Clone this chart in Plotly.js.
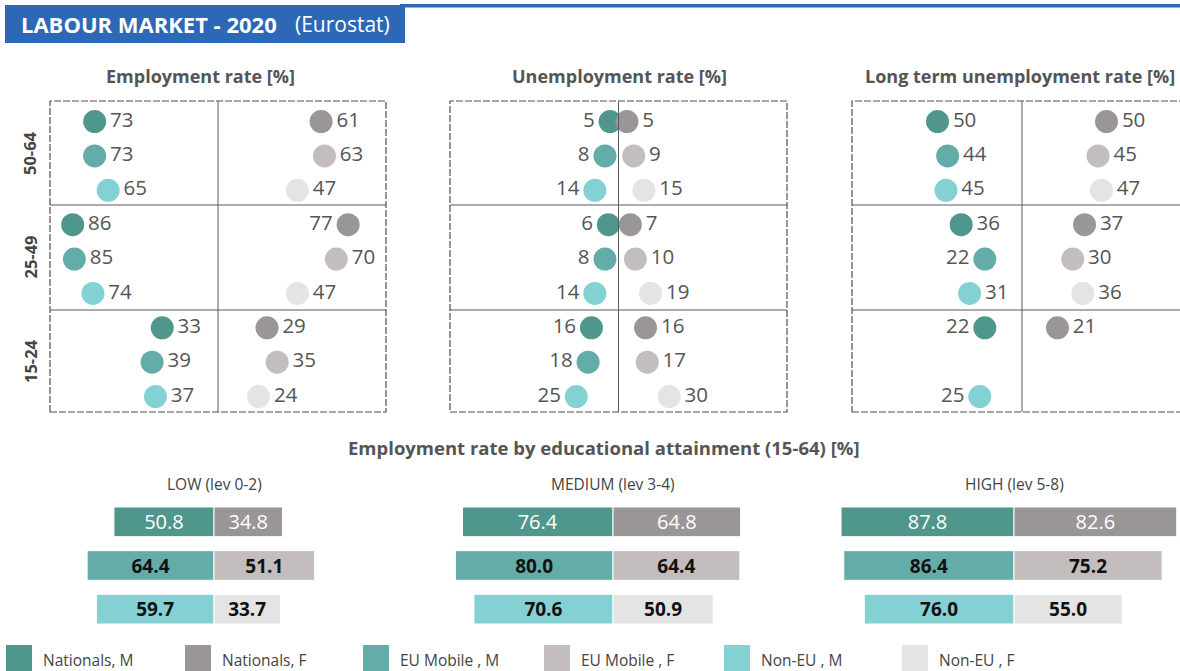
<!DOCTYPE html>
<html>
<head>
<meta charset="utf-8">
<script src="https://cdn.plot.ly/plotly-3.0.1.min.js"></script>
<style>html,body{margin:0;padding:0;background:#fff;}#chart{width:1180px;height:671px;}</style>
</head>
<body>
<div id="chart"></div>
<script>
// ---------------- DATA ----------------
const ageGroups = ['50-64', '25-49', '15-24'];
const groupLabels = ['Nationals, M', 'Nationals, F', 'EU Mobile , M', 'EU Mobile , F', 'Non-EU , M', 'Non-EU , F'];

// Employment rate [%]
const empNatM = [73, 86, 33];
const empEUM  = [73, 85, 39];
const empNonM = [65, 74, 37];
const empNatF = [61, 77, 29];
const empEUF  = [63, 70, 35];
const empNonF = [47, 47, 24];

// Unemployment rate [%]
const unNatM = [5, 6, 16];
const unEUM  = [8, 8, 18];
const unNonM = [14, 14, 25];
const unNatF = [5, 7, 16];
const unEUF  = [9, 10, 17];
const unNonF = [15, 19, 30];

// Long term unemployment rate [%]
const ltNatM = [50, 36, 22];
const ltEUM  = [44, 22, null];
const ltNonM = [45, 31, 25];
const ltNatF = [50, 37, 21];
const ltEUF  = [45, 30, null];
const ltNonF = [47, 36, null];

// Employment rate by educational attainment (15-64) [%]  rows: Nationals, EU Mobile, Non-EU
const eduLevels = ['LOW (lev 0-2)', 'MEDIUM (lev 3-4)', 'HIGH (lev 5-8)'];
const lowM = [50.8, 64.4, 59.7];
const lowF = [34.8, 51.1, 33.7];
const medM = [76.4, 80.0, 70.6];
const medF = [64.8, 64.4, 50.9];
const highM = [87.8, 86.4, 76.0];
const highF = [82.6, 75.2, 55.0];

// ---------------- STYLE ----------------
const W = 1180, H = 671;
const px = x => x / W;
const py = y => 1 - y / H;
const FONT = 'Open Sans, Noto Sans, sans-serif';

const colM = ['#4f978c', '#64aca7', '#84d1d3'];
const colF = ['#9a9697', '#c3bdbd', '#e4e4e4'];

const R = 'middle right', L = 'middle left';
const dotPanels = [
  {title: 'Employment rate [%]', tx: 200, x0: 50, x1: 386, c: 218,
   M: [empNatM, empEUM, empNonM], F: [empNatF, empEUF, empNonF],
   posM: [[R,R,R],[R,R,R],[R,R,R]], posF: [[R,L,R],[R,R,R],[R,R,R]]},
  {title: 'Unemployment rate [%]', tx: 619, x0: 450, x1: 787, c: 618.5,
   M: [unNatM, unEUM, unNonM], F: [unNatF, unEUF, unNonF],
   posM: [[L,L,L],[L,L,L],[L,L,L]], posF: [[R,R,R],[R,R,R],[R,R,R]]},
  {title: 'Long term unemployment rate [%]', tx: 1020, x0: 852, x1: 1180, c: 1022, clipR: 1192,
   M: [ltNatM, ltEUM, ltNonM], F: [ltNatF, ltEUF, ltNonF],
   posM: [[R,R,L],[R,L,L],[R,R,L]], posF: [[R,R,R],[R,R,R],[R,R,R]]}
];
const kDot = 1.69;
const dotTop = 101, dotBot = 412, div1 = 205, div2 = 310;

const barLevels = [
  {M: lowM, F: lowF, x0: 20, x1: 400, c: 214},
  {M: medM, F: medF, x0: 420, x1: 805, c: 613},
  {M: highM, F: highF, x0: 820, x1: 1180, c: 1014}
];
const kBar = 1.97;
const barTop = 500, barBot = 631;

// ---------------- BUILD ----------------
const traces = [];
const layout = {
  width: W, height: H,
  margin: {l: 0, r: 0, t: 0, b: 0},
  paper_bgcolor: '#ffffff', plot_bgcolor: 'rgba(0,0,0,0)',
  showlegend: false, barmode: 'overlay',
  font: {family: FONT, color: '#555'},
  shapes: [], annotations: []
};
const hiddenAxis = {showgrid: false, zeroline: false, showticklabels: false, showline: false, ticks: '', fixedrange: true};

dotPanels.forEach((p, i) => {
  const n = i + 1;
  const xa = 'xaxis' + (n === 1 ? '' : n), ya = 'yaxis' + (n === 1 ? '' : n);
  const xr = 'x' + (n === 1 ? '' : n), yr = 'y' + (n === 1 ? '' : n);
  layout[xa] = Object.assign({}, hiddenAxis, {domain: [px(p.x0), px(p.x1)],
    range: [-(p.c - p.x0) / kDot, (p.x1 - p.c) / kDot], anchor: yr});
  layout[ya] = Object.assign({}, hiddenAxis, {domain: [py(dotBot), py(dotTop)],
    range: [8.45, -0.6], anchor: xr});
  [0, 1, 2].forEach(g => {
    ['M', 'F'].forEach(sex => {
      const vals = p[sex][g];
      traces.push({
        type: 'scatter', mode: 'markers+text', xaxis: xr, yaxis: yr,
        x: vals.map(v => v == null ? null : (sex === 'M' ? -v : v)),
        y: ageGroups.map((a, ai) => ai * 3 + g),
        text: vals.map(v => v == null ? '' : String(v)),
        textposition: sex === 'M' ? p.posM[g] : p.posF[g],
        textfont: {family: FONT, size: 20.5, color: '#555'},
        marker: {size: 23, color: sex === 'M' ? colM[g] : colF[g], line: {width: 0}},
        cliponaxis: false, hoverinfo: 'skip'
      });
    });
  });
  // panel borders
  const xr1 = p.clipR || p.x1;
  layout.shapes.push({type: 'rect', xref: 'paper', yref: 'paper', x0: px(p.x0), x1: px(xr1),
    y0: py(dotBot), y1: py(dotTop), line: {color: '#505050', width: 1.2, dash: '7px,2px'}, fillcolor: 'rgba(0,0,0,0)'});
  [div1, div2].forEach(yy => layout.shapes.push({type: 'line', xref: 'paper', yref: 'paper',
    x0: px(p.x0), x1: px(xr1), y0: py(yy), y1: py(yy), line: {color: '#5a5a5a', width: 1}}));
  layout.shapes.push({type: 'line', xref: 'paper', yref: 'paper', x0: px(p.c), x1: px(p.c),
    y0: py(dotBot), y1: py(dotTop), line: {color: '#5a5a5a', width: 1}});
  layout.annotations.push({text: '<b>' + p.title + '</b>', xref: 'paper', yref: 'paper',
    x: px(p.tx), y: py(76), xanchor: 'center', yanchor: 'middle', showarrow: false,
    font: {family: FONT, size: 18, color: '#555'}});
});

// age labels
const blocks = [[dotTop, div1], [div1, div2], [div2, dotBot]];
ageGroups.forEach((a, ai) => {
  layout.annotations.push({text: '<b>' + a + '</b>', xref: 'paper', yref: 'paper',
    x: px(30), y: py((blocks[ai][0] + blocks[ai][1]) / 2), textangle: -90,
    xanchor: 'center', yanchor: 'middle', showarrow: false,
    font: {family: FONT, size: 16.5, color: '#444'}});
});

// bars
barLevels.forEach((b, i) => {
  const n = i + 4;
  const xr = 'x' + n, yr = 'y' + n;
  layout['xaxis' + n] = Object.assign({}, hiddenAxis, {domain: [px(b.x0), px(b.x1)],
    range: [-(b.c - b.x0) / kBar, (b.x1 - b.c) / kBar], anchor: yr});
  layout['yaxis' + n] = Object.assign({}, hiddenAxis, {domain: [py(barBot), py(barTop)],
    range: [2.5, -0.5], anchor: xr});
  [0, 1, 2].forEach(r => {
    ['M', 'F'].forEach(sex => {
      const v = b[sex][r];
      traces.push({
        type: 'bar', orientation: 'h', xaxis: xr, yaxis: yr,
        x: [sex === 'M' ? -v : v], y: [r], width: 0.68,
        marker: {color: sex === 'M' ? colM[r] : colF[r], line: {color: '#ffffff', width: 1}},
        text: [v.toFixed(1)], textposition: 'inside', insidetextanchor: 'middle', textangle: 0,
        constraintext: 'none',
        textfont: {family: FONT, size: r === 0 ? 20 : 19, color: r === 0 ? '#ffffff' : '#111111', weight: r === 0 ? 'normal' : 'bold'},
        hoverinfo: 'skip'
      });
    });
  });
  layout.annotations.push({text: eduLevels[i], xref: 'paper', yref: 'paper',
    x: px(b.c), y: py(484), xanchor: 'center', yanchor: 'middle', showarrow: false,
    font: {family: FONT, size: 15.5, color: '#444'}});
});

layout.annotations.push({text: '<b>Employment rate by educational attainment (15-64) [%]</b>', xref: 'paper', yref: 'paper',
  x: px(604), y: py(447), xanchor: 'center', yanchor: 'middle', showarrow: false,
  font: {family: FONT, size: 18.5, color: '#555'}});

// header
layout.shapes.push({type: 'rect', xref: 'paper', yref: 'paper', x0: px(400), x1: px(1180), y0: py(7.5), y1: py(4),
  line: {width: 0}, fillcolor: '#2c68b5'});
layout.shapes.push({type: 'rect', xref: 'paper', yref: 'paper', x0: px(5), x1: px(405), y0: py(43), y1: py(5),
  line: {width: 0}, fillcolor: '#2c68b5'});
layout.annotations.push({text: '<b>LABOUR MARKET - 2020</b>', xref: 'paper', yref: 'paper',
  x: px(19), y: py(24), xanchor: 'left', yanchor: 'middle', showarrow: false,
  font: {family: FONT, size: 22, color: '#ffffff'}});
layout.annotations.push({text: '(Eurostat)', xref: 'paper', yref: 'paper',
  x: px(293), y: py(24), xanchor: 'left', yanchor: 'middle', showarrow: false,
  font: {family: FONT, size: 21, color: '#ffffff'}});

// legend
const legX = [6, 185, 363, 544, 724, 902];
const legCols = [colM[0], colF[0], colM[1], colF[1], colM[2], colF[2]];
groupLabels.forEach((lab, i) => {
  layout.shapes.push({type: 'rect', xref: 'paper', yref: 'paper', x0: px(legX[i]), x1: px(legX[i] + 26),
    y0: py(672), y1: py(645), line: {width: 0}, fillcolor: legCols[i]});
  layout.annotations.push({text: lab, xref: 'paper', yref: 'paper', x: px(legX[i] + 35), y: py(660),
    xanchor: 'left', yanchor: 'middle', showarrow: false, font: {family: FONT, size: 15.5, color: '#444'}});
});

Plotly.newPlot('chart', traces, layout, {staticPlot: true, displayModeBar: false});
</script>
</body>
</html>
